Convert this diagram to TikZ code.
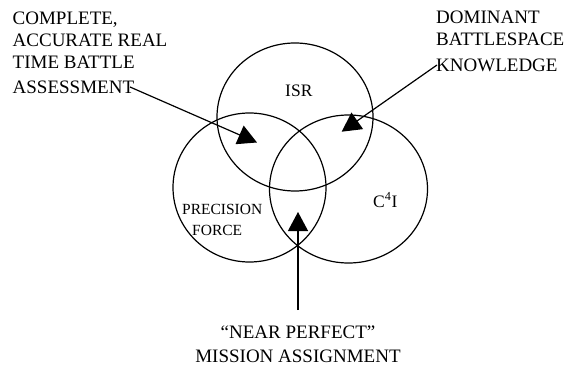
\documentclass[tikz,border=0pt]{standalone}
\usepackage{fontspec}
\setmainfont{Liberation Serif}
\usepackage{tikz}
\usetikzlibrary{positioning, calc}
\usetikzlibrary{shapes.geometric, arrows.meta}

\begin{document}
\begin{tikzpicture}[x=1pt, y=-1pt,
		ring/.style={draw, ellipse, line width=1.2pt, inner sep=0pt},
		big/.style={font=\fontsize{19}{22}\selectfont, inner sep=0pt, align=left},
		lbl/.style={font=\fontsize{17.5}{21}\selectfont, inner sep=0pt},
		pointer/.style={line width=1.2pt, -{Triangle[length=19pt,width=20pt]}}]
			\useasboundingbox (0,0) rectangle (564,366);
			% the three rings
			\node[ring, minimum width=156pt, minimum height=148pt] (isr) at (295,117) {};
			\node[ring, minimum width=153pt, minimum height=149pt] (pf) at (249.5,187.5) {};
			\node[ring, minimum width=158pt, minimum height=148pt] (ci) at (348.5,189) {};
			\node[lbl, anchor=base west] (isrl) at (285,97) {ISR};
			\node[lbl, anchor=base west] (cil) at (373,207) {C\textsuperscript{4}I};
			\node[lbl, font=\fontsize{15.5}{21}\selectfont, align=left, anchor=north west] (pfl) at (182,204.5)
				{PRECISION\\\hspace*{10pt}FORCE};
			% outer texts
			\node[big, anchor=north west] (tl) at (12.5,11.5)
				{COMPLETE,\\ACCURATE REAL\\TIME BATTLE\\[3pt]ASSESSMENT};
			\node[big, anchor=north west] (tr) at (436,11)
				{DOMINANT\\BATTLESPACE\\[4pt]KNOWLEDGE};
			\node[big, align=center, anchor=north] (bot) at (298,326)
				{``NEAR PERFECT''\\[2pt]MISSION ASSIGNMENT};
			% arrows
			\coordinate (taila) at (130,87);
			\coordinate (tipa) at (257,142.5);
			\coordinate (tailb) at (437,65);
			\coordinate (tipb) at (341.7,131.7);
			\coordinate (tailc) at (298,310);
			\coordinate (tipc) at (298,212);
			\draw[pointer] (taila) -- (tipa);
			\draw[pointer] (tailb) -- (tipb);
			\draw[pointer] (tailc) -- (tipc);
		\end{tikzpicture}
\end{document}
